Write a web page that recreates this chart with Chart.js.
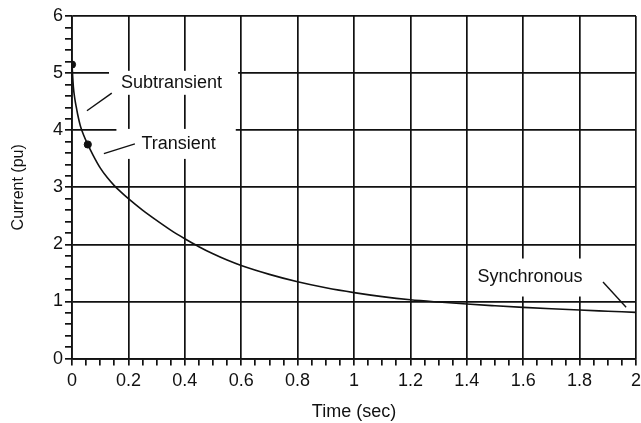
<!DOCTYPE html>
<html>
<head>
<meta charset="utf-8">
<script src="https://cdn.jsdelivr.net/npm/chart.js@4"></script>
<style>
  html, body { margin: 0; padding: 0; background: #fff; }
  #wrap { width: 641px; height: 423px; }
</style>
</head>
<body>
<div id="wrap"><canvas id="chart"></canvas></div>
<script>
// Short-circuit current decay
const times   = [0, 0.005, 0.01, 0.015, 0.02, 0.03, 0.04, 0.055, 0.075, 0.1, 0.125, 0.15, 0.175, 0.2,
                 0.25, 0.3, 0.35, 0.4, 0.45, 0.5, 0.55, 0.6, 0.7, 0.8, 0.9, 1.0,
                 1.1, 1.2, 1.3, 1.4, 1.5, 1.6, 1.7, 1.8, 1.9, 2.0];
const current = [5.15, 4.75, 4.55, 4.41, 4.28, 4.07, 3.93, 3.76, 3.56, 3.34, 3.17, 3.03, 2.91, 2.8,
                 2.6, 2.42, 2.25, 2.1, 1.96, 1.835, 1.725, 1.63, 1.475, 1.345, 1.24, 1.155,
                 1.085, 1.03, 0.99, 0.955, 0.925, 0.897, 0.872, 0.85, 0.83, 0.81];

// dots marking subtransient / transient values
const markerTimes   = [0, 0.056];
const markerCurrent = [5.15, 3.75];

// annotation text and where it sits (data units)
const noteText  = ["Subtransient", "Transient", "Synchronous"];
const noteX     = [0.353, 0.378, 1.624];
const noteY     = [4.83, 3.76, 1.42];
// pointer lines: from (x1,y1) to (x2,y2)
const arrowX1 = [0.053, 0.113, 1.883];
const arrowY1 = [4.34, 3.59, 1.34];
const arrowX2 = [0.141, 0.223, 1.965];
const arrowY2 = [4.65, 3.76, 0.90];

const FONT = "'Liberation Sans', Arial, Helvetica, sans-serif";

const isMult = (v, step) => Math.abs(v / step - Math.round(v / step)) < 1e-6;

// white box around each label: [left, right, half height] in px
const boxPad = [[12, 16, 12], [25, 20, 15], [6, 8, 19]];

// draws labels on white boxes (they break the grid) plus pointer lines
const notesPlugin = {
  id: "notes",
  beforeDatasetsDraw(chart) {
    const ctx = chart.ctx;
    const xs = chart.scales.x, ys = chart.scales.y;
    ctx.save();
    ctx.font = "18px " + FONT;
    ctx.textAlign = "center";
    ctx.textBaseline = "middle";
    noteText.forEach((t, i) => {
      const cx = xs.getPixelForValue(noteX[i]);
      const cy = ys.getPixelForValue(noteY[i]);
      const w = ctx.measureText(t).width;
      const [pl, pr, ph] = boxPad[i];
      ctx.fillStyle = "#fff";
      ctx.fillRect(cx - w / 2 - pl, cy - ph, w + pl + pr, ph * 2);
      ctx.fillStyle = "#111";
      ctx.fillText(t, cx, cy);
    });
    ctx.strokeStyle = "#111";
    ctx.lineWidth = 1.4;
    arrowX1.forEach((x1, i) => {
      ctx.beginPath();
      ctx.moveTo(xs.getPixelForValue(x1), ys.getPixelForValue(arrowY1[i]));
      ctx.lineTo(xs.getPixelForValue(arrowX2[i]), ys.getPixelForValue(arrowY2[i]));
      ctx.stroke();
    });
    ctx.restore();
  }
};

const ctx = document.getElementById("chart").getContext("2d");
new Chart(ctx, {
  type: "line",
  data: {
    datasets: [
      {
        data: times.map((t, i) => ({ x: t, y: current[i] })),
        borderColor: "#111",
        borderWidth: 1.6,
        pointRadius: 0,
        cubicInterpolationMode: "monotone",
        fill: false,
      },
      {
        type: "scatter",
        data: markerTimes.map((t, i) => ({ x: t, y: markerCurrent[i] })),
        backgroundColor: "#111",
        borderColor: "#111",
        pointRadius: 3.6,
      },
    ],
  },
  options: {
    responsive: true,
    maintainAspectRatio: false,
    animation: false,
    layout: { padding: { left: 0, right: 3, top: 16, bottom: 0 } },
    plugins: {
      legend: { display: false },
      tooltip: { enabled: false },
    },
    scales: {
      x: {
        type: "linear",
        min: 0,
        max: 2,
        afterFit: (s) => { s.height = 64.4; s.paddingLeft = 0; s.paddingRight = 0; },
        ticks: {
          stepSize: 0.05,
          autoSkip: false,
          maxRotation: 0,
          padding: 5,
          color: "#111",
          font: { family: FONT, size: 18 },
          callback: (v) => (isMult(v, 0.2) ? String(Math.round(v * 5) / 5) : ""),
        },
        grid: {
          color: (c) => (isMult(c.tick.value, 0.2) ? "#111" : "rgba(0,0,0,0)"),
          tickColor: "#111",
          lineWidth: 1.7,
          tickLength: 7,
        },
        border: { color: "#111", width: 1.7 },
        title: {
          display: true,
          text: "Time (sec)",
          color: "#111",
          font: { family: FONT, size: 18 },
          padding: { top: 0, bottom: 0 },
        },
      },
      y: {
        min: 0,
        max: 6,
        afterFit: (s) => { s.width = 72; s.paddingTop = 0; s.paddingBottom = 0; },
        ticks: {
          stepSize: 0.2,
          autoSkip: false,
          padding: 2,
          color: "#111",
          font: { family: FONT, size: 18 },
          callback: (v) => (isMult(v, 1) ? String(Math.round(v)) : ""),
        },
        grid: {
          color: (c) => (isMult(c.tick.value, 1) ? "#111" : "rgba(0,0,0,0)"),
          tickColor: "#111",
          lineWidth: 1.7,
          tickLength: 7,
        },
        border: { color: "#111", width: 1.7 },
        title: {
          display: true,
          text: "Current (pu)",
          color: "#111",
          font: { family: FONT, size: 16 },
          padding: { top: 9, bottom: 0 },
        },
      },
    },
  },
  plugins: [notesPlugin],
});
</script>
</body>
</html>
